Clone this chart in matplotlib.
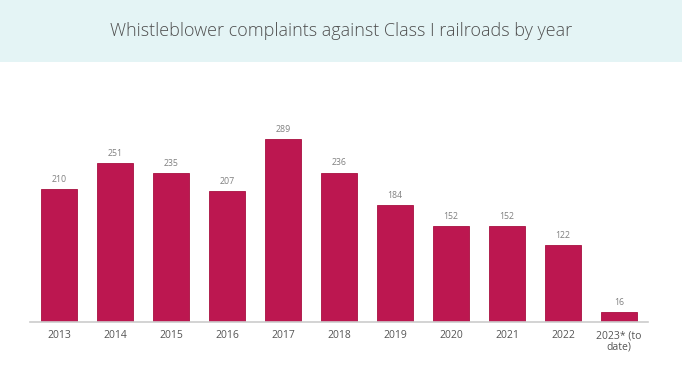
import matplotlib.pyplot as plt
from matplotlib.patches import Rectangle

years = ['2013', '2014', '2015', '2016', '2017', '2018', '2019', '2020', '2021', '2022', '2023* (to\ndate)']
complaints = [210, 251, 235, 207, 289, 236, 184, 152, 152, 122, 16]

plt.rcParams['font.family'] = ['Open Sans', 'DejaVu Sans']

fig = plt.figure(figsize=(6.82, 3.79), dpi=100, facecolor='white')

# light header band with the title
fig.patches.append(Rectangle((0, 1 - 62 / 379), 1, 62 / 379, transform=fig.transFigure,
                             facecolor='#E4F4F5', edgecolor='none', zorder=0))
fig.text(0.5, 1 - 31 / 379, 'Whistleblower complaints against Class I railroads by year',
         ha='center', va='center', fontsize=13, color='#4F4F4F', fontweight='light')

ax = fig.add_axes([30 / 682, 57 / 379, 618 / 682, 190 / 379])
x = range(len(years))
bars = ax.bar(x, complaints, width=0.65, color='#BC1750', edgecolor='#A8103F', linewidth=0.6)
for xi, v in zip(x, complaints):
    ax.text(xi, v + 8, str(v), ha='center', va='bottom', fontsize=6.3, color='#808080')

ax.set_xlim(-0.52, 10.52)
ax.set_ylim(0, 300)
ax.set_xticks(list(x))
ax.set_xticklabels(years, fontsize=7.5, color='#555555', linespacing=1.05)
ax.tick_params(axis='x', length=0, pad=6)
ax.set_yticks([])
for s in ['top', 'left', 'right']:
    ax.spines[s].set_visible(False)
ax.spines['bottom'].set_color('#CCCCCC')
ax.spines['bottom'].set_linewidth(1.2)
ax.set_facecolor('none')

plt.savefig('out.png', dpi=100, facecolor=fig.get_facecolor())
